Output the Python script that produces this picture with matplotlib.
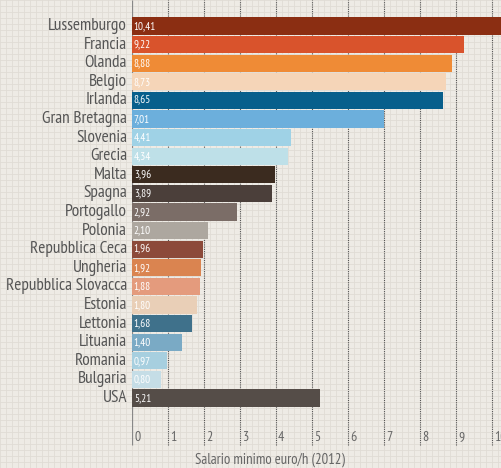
#!/usr/bin/env python3
"""Salario minimo orario: barre orizzontali su sfondo a quadretti."""
import numpy as np
import matplotlib
matplotlib.use("Agg")
import matplotlib.pyplot as plt

countries = [
    "Lussemburgo", "Francia", "Olanda", "Belgio", "Irlanda", "Gran Bretagna",
    "Slovenia", "Grecia", "Malta", "Spagna", "Portogallo", "Polonia",
    "Repubblica Ceca", "Ungheria", "Repubblica Slovacca", "Estonia",
    "Lettonia", "Lituania", "Romania", "Bulgaria", "USA",
]
wages = [10.41, 9.22, 8.88, 8.73, 8.65, 7.01, 4.41, 4.34, 3.96, 3.89, 2.92,
         2.10, 1.96, 1.92, 1.88, 1.80, 1.68, 1.40, 0.97, 0.80, 5.21]
colors = [
    "#8b2e12", "#d9532c", "#ef8b36", "#f5d5b8", "#075f8c", "#6cafdc",
    "#9fd2e6", "#bee0e8", "#3b2b1f", "#4b3f3a", "#7b6d67", "#ada79f",
    "#8c4a3a", "#da8450", "#e49b7d", "#e9cfb7", "#3f718b", "#7aaac5",
    "#a7cfdf", "#c5dde6", "#554d48",
]
xticks = list(range(0, 11))

W, H = 502, 468
BG = "#eeebe5"
plt.rcParams["font.family"] = ["PT Sans Narrow", "Asap Condensed", "DejaVu Sans"]

fig = plt.figure(figsize=(W / 100, H / 100), dpi=100, facecolor=BG)

# graph-paper background
bg = fig.add_axes([0, 0, 1, 1])
bg.set_xlim(0, W)
bg.set_ylim(H, 0)
bg.set_facecolor(BG)
for x in np.arange(0, W, 6):
    bg.axvline(x, color="#e0dcd5", lw=0.6)
for y in np.arange(0, H, 6):
    bg.axhline(y, color="#e0dcd5", lw=0.6)
bg.set_axis_off()

# main axes, in pixel layout
left_px, top_px, bot_px = 132, 0, 448
px_per_unit = 36.0
row_px, first_px = 18.6, 26.0
ax = fig.add_axes([left_px / W, 1 - bot_px / H, 1 - left_px / W, (bot_px - top_px) / H])
ax.patch.set_alpha(0)
ax.set_xlim(0, (W - left_px) / px_per_unit)
ax.set_ylim((bot_px - first_px) / row_px, (top_px - first_px) / row_px)
for s in ax.spines.values():
    s.set_visible(False)
ax.set_xticks([])
ax.set_yticks([])

y = np.arange(len(countries))
grid_bottom = (445 - first_px) / row_px
ax.vlines(xticks[1:], grid_bottom, ax.get_ylim()[1], colors="#555555",
          linestyles=(0, (1, 1)), lw=0.8, zorder=1)
ax.vlines(0, grid_bottom, ax.get_ylim()[1], colors="#888888", lw=0.9, zorder=1)

ax.barh(y, wages, height=0.92, color=colors, zorder=2)

for yi, name, val in zip(y, countries, wages):
    ax.text(-0.14, yi, name, ha="right", va="center", fontsize=12.4,
            color="#555555", zorder=3)
    ax.text(0.05, yi, f"{val:.2f}".replace(".", ","), ha="left", va="center",
            fontsize=8, color="white", zorder=3)

tick_y = (438 - first_px) / row_px
for t in xticks:
    ax.text(t + 0.06, tick_y, str(t), ha="left", va="center", fontsize=10,
            color="#666666")

fig.text(270 / W, 1 - 460 / H, "Salario minimo euro/h (2012)", ha="center",
         va="center", fontsize=10.6, color="#666666")

fig.savefig("out.png", dpi=100, facecolor=BG)
